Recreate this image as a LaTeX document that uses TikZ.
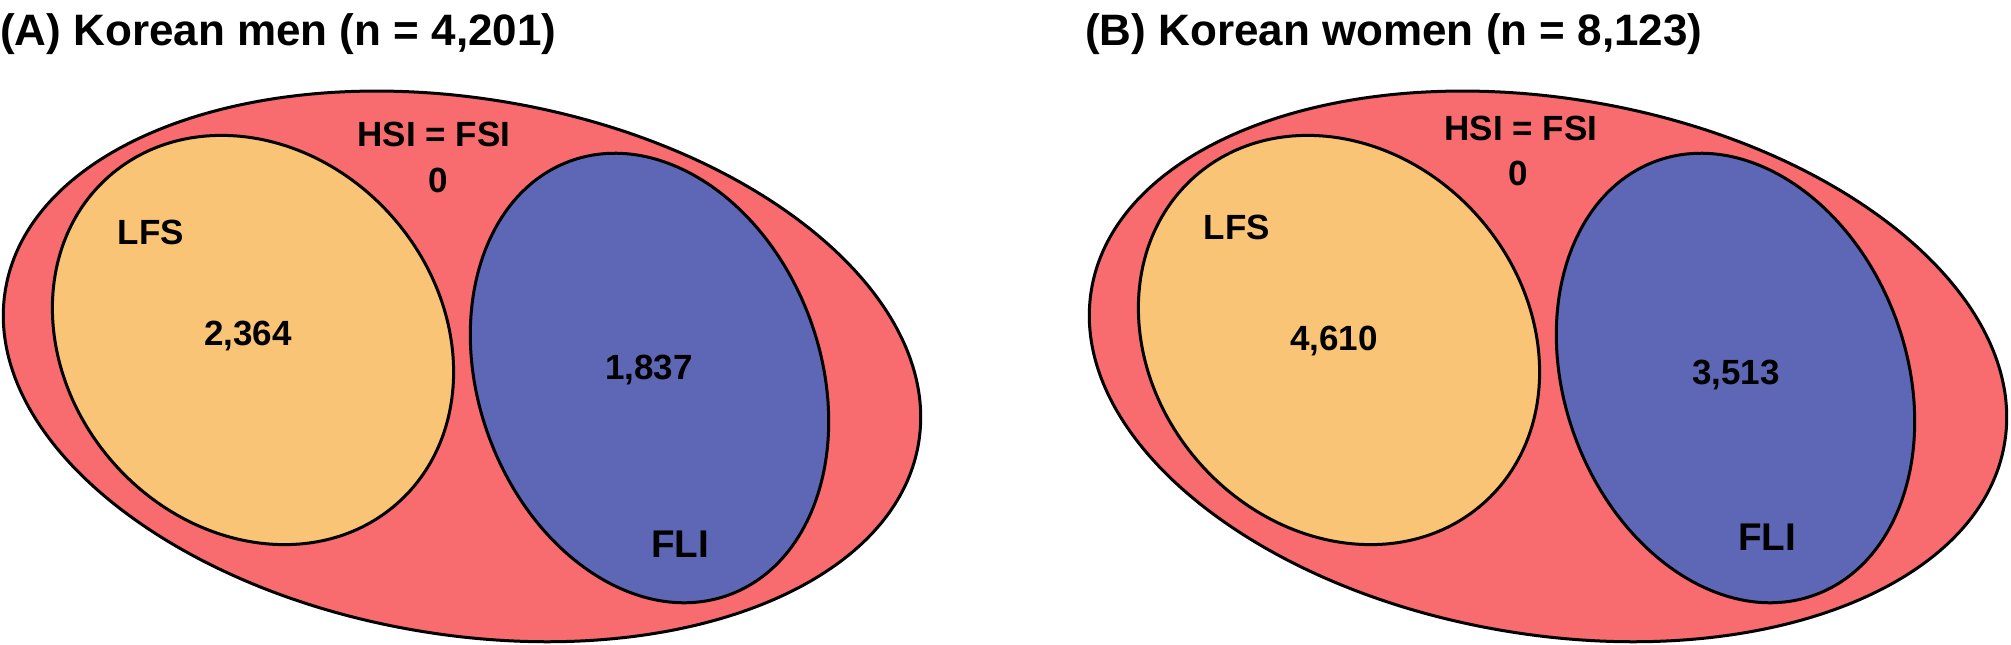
\documentclass[tikz,border=0pt]{standalone}
\usepackage{fontspec}
\setmainfont{Liberation Sans}
\definecolor{outerred}{RGB}{248,108,111}
\definecolor{lfsorange}{RGB}{249,196,117}
\definecolor{fliblue}{RGB}{93,103,181}
\begin{document}
\begin{tikzpicture}[x=1pt,y=-1pt,
  setline/.style={draw=black, line width=3pt},
  lbl/.style={font=\fontsize{35}{40}\selectfont\bfseries, anchor=base, inner sep=0pt},
  biglbl/.style={font=\fontsize{38.6}{44}\selectfont\bfseries, anchor=base, inner sep=0pt},
  ttl/.style={font=\fontsize{44}{50}\selectfont\bfseries, anchor=base west, inner sep=0pt}]
\fill[white] (0,0) rectangle (2011,645);
\useasboundingbox (0,0) rectangle (2011,645);
\foreach \dx in {0,1086} {
  \begin{scope}[xshift=\dx pt]
    \begin{scope}[shift={(462,366.4)}, rotate=-9.6]
      \filldraw[fill=outerred, setline] (0,0) ellipse [x radius=463, y radius=268];
    \end{scope}
    \begin{scope}[shift={(253,340)}, rotate=-48.6]
      \filldraw[fill=lfsorange, setline] (0,0) ellipse [x radius=218, y radius=186];
    \end{scope}
    \begin{scope}[shift={(649.5,378)}, rotate=20.15]
      \filldraw[fill=fliblue, setline] (0,0) ellipse [x radius=171, y radius=231];
    \end{scope}
  \end{scope}
}
% Panel A
\node[ttl] (titleA) at (0,45) {(A) Korean men (n = 4,201)};
\node[lbl] (hsiA) at (434,146.5) {HSI = FSI};
\node[lbl] (zeroA) at (438,192.5) {0};
\node[lbl] (lfsA) at (151,244.5) {LFS};
\node[lbl] (lfsnA) at (248,345.5) {2,364};
\node[lbl] (flinA) at (649,379.5) {1,837};
\node[biglbl] (fliA) at (680,557.8) {FLI};
% Panel B
\node[ttl] (titleB) at (1085,45) {(B) Korean women (n = 8,123)};
\node[lbl] (hsiB) at (1521,140.5) {HSI = FSI};
\node[lbl] (zeroB) at (1518,185.5) {0};
\node[lbl] (lfsB) at (1237,239.5) {LFS};
\node[lbl] (lfsnB) at (1334,350.5) {4,610};
\node[lbl] (flinB) at (1736,384.5) {3,513};
\node[biglbl] (fliB) at (1767,550.8) {FLI};
\end{tikzpicture}
\end{document}
